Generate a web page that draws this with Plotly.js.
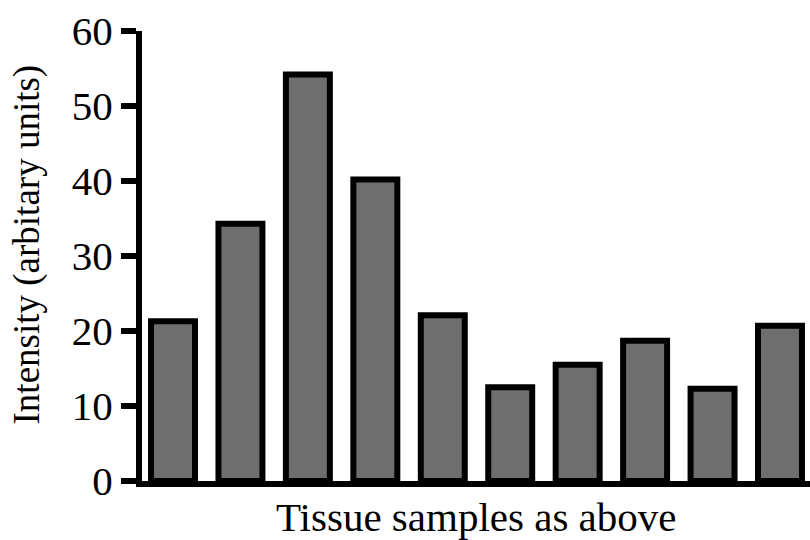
<!DOCTYPE html>
<html>
<head>
<meta charset="utf-8">
<script src="https://cdn.plot.ly/plotly-3.0.1.min.js"></script>
<style>
  html, body { margin: 0; padding: 0; background: #ffffff; }
  #chart { width: 810px; height: 540px; }
</style>
</head>
<body>
<div id="chart"></div>
<script>
// Data
const samples = ["S1", "S2", "S3", "S4", "S5", "S6", "S7", "S8", "S9", "S10"];
const intensity = [21.3, 34.3, 54.2, 40.2, 22.1, 12.5, 15.5, 18.7, 12.3, 20.7];
const yTickValues = [0, 10, 20, 30, 40, 50, 60];
const yTickLabels = ["0", "10", "20", "30", "40", "50", "60"];
const xTitle = "Tissue samples as above";
const yTitle = "Intensity (arbitary units)";

const FONT = "Liberation Serif, Times New Roman, serif";

const trace = {
  type: "bar",
  x: samples.map((s, i) => i),
  y: intensity,
  marker: {
    color: "#6e6e6e",
    line: { color: "#000000", width: 6 }
  },
  hoverinfo: "skip"
};

const layout = {
  width: 810,
  height: 540,
  margin: { l: 142, r: 0, t: 31, b: 59, pad: 0 },
  paper_bgcolor: "#ffffff",
  plot_bgcolor: "#ffffff",
  showlegend: false,
  bargap: 0.348,
  font: { family: FONT, color: "#000000" },
  xaxis: {
    range: [-0.4597, 9.445],
    showgrid: false,
    zeroline: false,
    showline: true,
    linecolor: "#000000",
    linewidth: 6,
    showticklabels: false,
    ticks: "",
    fixedrange: true
  },
  yaxis: {
    range: [0, 60],
    tickmode: "array",
    tickvals: yTickValues,
    ticktext: yTickLabels,
    showgrid: false,
    zeroline: false,
    showline: true,
    linecolor: "#000000",
    linewidth: 6,
    ticks: "outside",
    ticklen: 15,
    tickwidth: 6,
    tickcolor: "#000000",
    ticklabelstandoff: 0,
    tickfont: { family: FONT, size: 41, color: "#000000" },
    fixedrange: true
  },
  annotations: [
    {
      text: xTitle,
      xref: "paper", yref: "paper",
      x: 0.5, y: -0.081,
      xanchor: "center", yanchor: "middle",
      showarrow: false,
      font: { family: FONT, size: 41, color: "#000000" }
    },
    {
      text: yTitle,
      xref: "paper", yref: "paper",
      x: -0.1707, y: 0.5256,
      xanchor: "center", yanchor: "middle",
      textangle: -90,
      showarrow: false,
      font: { family: FONT, size: 37, color: "#000000" }
    }
  ]
};

Plotly.newPlot("chart", [trace], layout, { displayModeBar: false, staticPlot: true });
</script>
</body>
</html>
